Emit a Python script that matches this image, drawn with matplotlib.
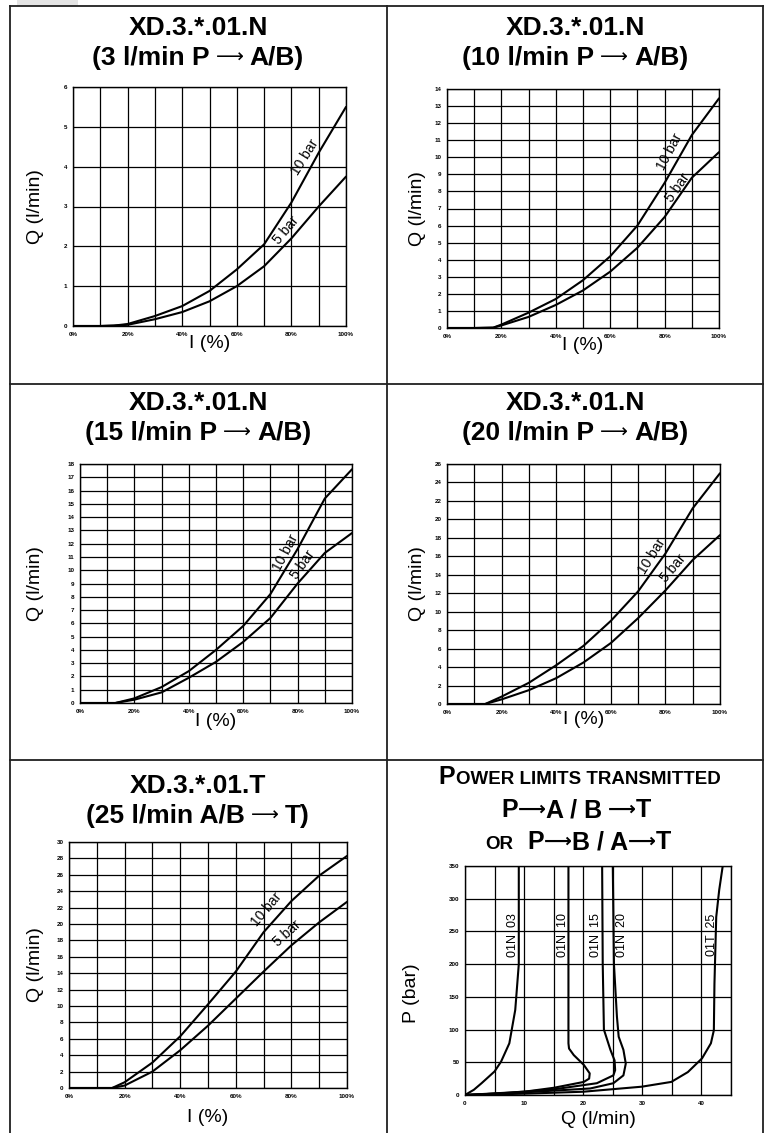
import matplotlib
matplotlib.use("Agg")
import matplotlib.pyplot as plt
from matplotlib.lines import Line2D
from matplotlib.patches import Rectangle

plt.rcParams['font.family'] = ['Liberation Sans', 'DejaVu Sans']

W, H = 765, 1133

# ---- data ----
# I (%) vs Q (l/min) at 10 bar and 5 bar
p1_i = [0, 10, 15, 20, 30, 40, 50, 60, 70, 80, 90, 100]
p1_q10 = [0, 0, 0.01, 0.05, 0.25, 0.5, 0.88, 1.42, 2.05, 3.1, 4.35, 5.5]
p1_q5 = [0, 0, 0.01, 0.03, 0.17, 0.35, 0.62, 1.0, 1.5, 2.2, 3.0, 3.75]

p2_i = [0, 10, 17, 20, 30, 40, 50, 60, 70, 80, 90, 100]
p2_q10 = [0, 0, 0.02, 0.2, 0.9, 1.7, 2.8, 4.2, 6.0, 8.5, 11.3, 13.45]
p2_q5 = [0, 0, 0.02, 0.15, 0.65, 1.35, 2.2, 3.3, 4.7, 6.5, 8.8, 10.3]

p3_i = [0, 10, 13, 20, 30, 40, 50, 60, 70, 80, 90, 100]
p3_q10 = [0, 0, 0, 0.35, 1.2, 2.4, 4.0, 5.8, 8.2, 11.6, 15.4, 17.6]
p3_q5 = [0, 0, 0, 0.25, 0.8, 1.9, 3.1, 4.6, 6.4, 9.0, 11.3, 12.8]

p4_i = [0, 10, 14, 20, 30, 40, 50, 60, 70, 80, 90, 100]
p4_q10 = [0, 0, 0, 0.8, 2.3, 4.2, 6.3, 9.0, 12.2, 16.3, 21.2, 25.0]
p4_q5 = [0, 0, 0, 0.5, 1.5, 2.8, 4.5, 6.6, 9.3, 12.3, 15.6, 18.3]

p5_i = [0, 10, 15.5, 20, 30, 40, 50, 60, 70, 80, 90, 100]
p5_q10 = [0, 0, 0, 0.7, 3.1, 6.3, 10.2, 14.2, 19.0, 22.8, 25.9, 28.3]
p5_q5 = [0, 0, 0, 0.3, 2.0, 4.6, 7.6, 10.9, 14.2, 17.4, 20.2, 22.7]

# power limits: Q (l/min), P (bar)
n03_q = [0, 1.5, 2.8, 5.0, 6.1, 7.5, 8.5, 9.1, 9.1]
n03_p = [0, 8, 18, 36, 51, 79, 130, 200, 350]
n10_q = [0, 5, 10, 15, 20.1, 21.0, 21.1, 20.1, 18.4, 17.6, 17.5, 17.5]
n10_p = [0, 2, 5, 11, 20, 25, 33, 46, 61, 71, 79, 350]
n15_q = [0, 8, 14.5, 22.3, 25.1, 25.4, 25.3, 24.6, 23.5, 23.3, 23.2]
n15_p = [0, 4, 8, 18, 30, 38, 53, 69, 100, 200, 350]
n20_q = [0, 10, 21.2, 25.1, 26.8, 27.2, 26.8, 26.0, 25.7, 25.2, 25.0]
n20_p = [0, 4, 10, 18, 30, 48, 69, 89, 120, 200, 350]
t25_q = [0, 10, 20, 29.9, 34.9, 37.7, 40.1, 41.6, 42.1, 42.2, 42.5, 43.0, 43.6]
t25_p = [0, 2, 5, 12.7, 20, 35, 56, 79, 99, 170, 272, 313, 350]

power_labels = ["01N  03", "01N  10", "01N  15", "01N  20", "01T  25"]
power_label_q = [8.1, 16.5, 22.1, 26.5, 41.8]

ARROW = "\u27f6"


def fx(x):
    return x / W


def fy(y):
    return 1 - y / H


def px_axes(l, t, r, b):
    return fig.add_axes([l / W, 1 - b / H, (r - l) / W, (b - t) / H])


fig = plt.figure(figsize=(W / 100, H / 100), dpi=100)
renderer = fig.canvas.get_renderer()

# grey patch and cell borders
fig.add_artist(Rectangle((fx(17), fy(5.5)), (78 - 17) / W, 5.5 / H,
                         transform=fig.transFigure, color='#e4e4e4', lw=0))
border = dict(transform=fig.transFigure, color='#202020', lw=1.3)
for x in [9.5, 387, 763]:
    fig.add_artist(Line2D([fx(x), fx(x)], [fy(6), fy(H + 2)], **border))
for y in [6, 384, 760]:
    fig.add_artist(Line2D([fx(9.5), fx(763)], [fy(y), fy(y)], **border))


def title_line(cx, base, parts):
    # parts: (text, fontsize, family, weight, gap px before, raise px)
    texts = []
    for s, fs, fam, wt, gap, dy in parts:
        texts.append(fig.text(0, fy(base - dy), s, fontsize=fs, family=fam,
                              fontweight=wt, ha='left', va='baseline'))
    widths = [tx.get_window_extent(renderer).width for tx in texts]
    total = sum(widths) + sum(p[4] for p in parts)
    x = cx - total / 2
    for tx, w, p in zip(texts, widths, parts):
        x += p[4]
        tx.set_x(fx(x))
        x += w


LIB = ['Liberation Sans', 'DejaVu Sans']
DJ = ['DejaVu Sans']

tick_font = dict(fontsize=4.5, fontweight='bold')
curve_style = dict(color='black', lw=1.5, solid_capstyle='round')


def style_axes(ax, xlim, ylim, xticks, xlabels, yticks):
    ax.set_xlim(*xlim)
    ax.set_ylim(*ylim)
    ax.set_xticks(xticks)
    ax.set_xticklabels(xlabels, **tick_font)
    ax.set_yticks(yticks)
    ax.set_yticklabels([str(v) for v in yticks], **tick_font)
    ax.tick_params(length=0, pad=4)
    ax.grid(True, color='black', lw=0.9)
    for s in ax.spines.values():
        s.set_color('black')
        s.set_linewidth(1.0)


pct_ticks = list(range(0, 101, 10))
pct_labels = [f"{v}%" if v % 20 == 0 else "" for v in pct_ticks]

panels = [
    dict(box=(73, 87, 346, 326), cx=198, tb=(35, 65),
         title=("XD.3.*.01.N", "(3 l/min P", "A/B)"),
         ymax=6, ystep=1, i=p1_i, q10=p1_q10, q5=p1_q5,
         lab10=(85.0, 4.25, 58), lab5=(78.0, 2.4, 50), ylx=35, xly=343),
    dict(box=(447, 89, 719, 328), cx=575, tb=(35, 65),
         title=("XD.3.*.01.N", "(10 l/min P", "A/B)"),
         ymax=14, ystep=1, i=p2_i, q10=p2_q10, q5=p2_q5,
         lab10=(82.0, 10.3, 62), lab5=(85.0, 8.2, 55), ylx=418, xly=346),
    dict(box=(80, 464, 352, 703), cx=198, tb=(410, 440),
         title=("XD.3.*.01.N", "(15 l/min P", "A/B)"),
         ymax=18, ystep=1, i=p3_i, q10=p3_q10, q5=p3_q5,
         lab10=(75.8, 11.3, 62), lab5=(82.0, 10.4, 55), ylx=35, xly=721),
    dict(box=(447, 464, 720, 704), cx=575, tb=(410, 440),
         title=("XD.3.*.01.N", "(20 l/min P", "A/B)"),
         ymax=26, ystep=2, i=p4_i, q10=p4_q10, q5=p4_q5,
         lab10=(75.0, 16.0, 58), lab5=(83.0, 14.7, 50), ylx=418, xly=720),
    dict(box=(69, 842, 347, 1088), cx=198, tb=(793, 823),
         title=("XD.3.*.01.T", "(25 l/min A/B", "T)"),
         ymax=30, ystep=2, i=p5_i, q10=p5_q10, q5=p5_q5,
         lab10=(71.2, 21.8, 50), lab5=(78.6, 18.8, 42), ylx=35, xly=1117),
]

for p in panels:
    l, t, r, b = p['box']
    ax = px_axes(l, t, r, b)
    style_axes(ax, (0, 100), (0, p['ymax']), pct_ticks, pct_labels,
               list(range(0, p['ymax'] + 1, p['ystep'])))
    ax.plot(p['i'], p['q10'], **curve_style)
    ax.plot(p['i'], p['q5'], **curve_style)
    x, y, rot = p['lab10']
    ax.text(x, y, "10 bar", fontsize=10, rotation=rot, ha='center', va='center')
    x, y, rot = p['lab5']
    ax.text(x, y, "5 bar", fontsize=10, rotation=rot, ha='center', va='center')
    title_line(p['cx'], p['tb'][0], [(p['title'][0], 19, LIB, 'bold', 0, 0)])
    title_line(p['cx'], p['tb'][1], [(p['title'][1], 19, LIB, 'bold', 0, 0),
                                     (ARROW, 14, DJ, 'normal', 6, 2),
                                     (p['title'][2], 19, LIB, 'bold', 6, 0)])
    fig.text(fx(p['ylx']), fy((t + b) / 2), "Q (l/min)", fontsize=14,
             rotation=90, ha='center', va='center')
    fig.text(fx((l + r) / 2), fy(p['xly']), "I (%)", fontsize=14,
             ha='center', va='center')

# ---- power limits panel ----
ax = px_axes(465, 866, 731, 1095)
q_ticks = list(range(0, 46, 5))
style_axes(ax, (0, 45), (0, 350), q_ticks,
           [str(v) if v % 10 == 0 else "" for v in q_ticks],
           list(range(0, 351, 50)))
for q, pp in [(n03_q, n03_p), (n10_q, n10_p), (n15_q, n15_p),
              (n20_q, n20_p), (t25_q, t25_p)]:
    ax.plot(q, pp, **curve_style)
for lab, q in zip(power_labels, power_label_q):
    ax.text(q, 244, lab, fontsize=9, rotation=90, ha='center', va='center')
fig.text(fx(412), fy(993), "P (bar)", fontsize=14, rotation=90,
         ha='center', va='center')
fig.text(fx(598), fy(1119), "Q (l/min)", fontsize=14, ha='center', va='center')

title_line(580, 784, [("P", 18, LIB, 'bold', 0, 0),
                      ("OWER LIMITS TRANSMITTED", 13.5, LIB, 'bold', 1, 0)])
title_line(576, 817, [("P", 18, LIB, 'bold', 0, 0),
                      (ARROW, 14, DJ, 'bold', 0, 2),
                      ("A / B", 18, LIB, 'bold', 0, 0),
                      (ARROW, 14, DJ, 'bold', 6, 2),
                      ("T", 18, LIB, 'bold', 0, 0)])
title_line(578, 849, [("OR", 13.5, LIB, 'bold', 0, 0),
                      ("P", 18, LIB, 'bold', 14, 0),
                      (ARROW, 14, DJ, 'bold', 0, 2),
                      ("B / A", 18, LIB, 'bold', 0, 0),
                      (ARROW, 14, DJ, 'bold', 0, 2),
                      ("T", 18, LIB, 'bold', 0, 0)])

fig.savefig("out.png", dpi=100)
